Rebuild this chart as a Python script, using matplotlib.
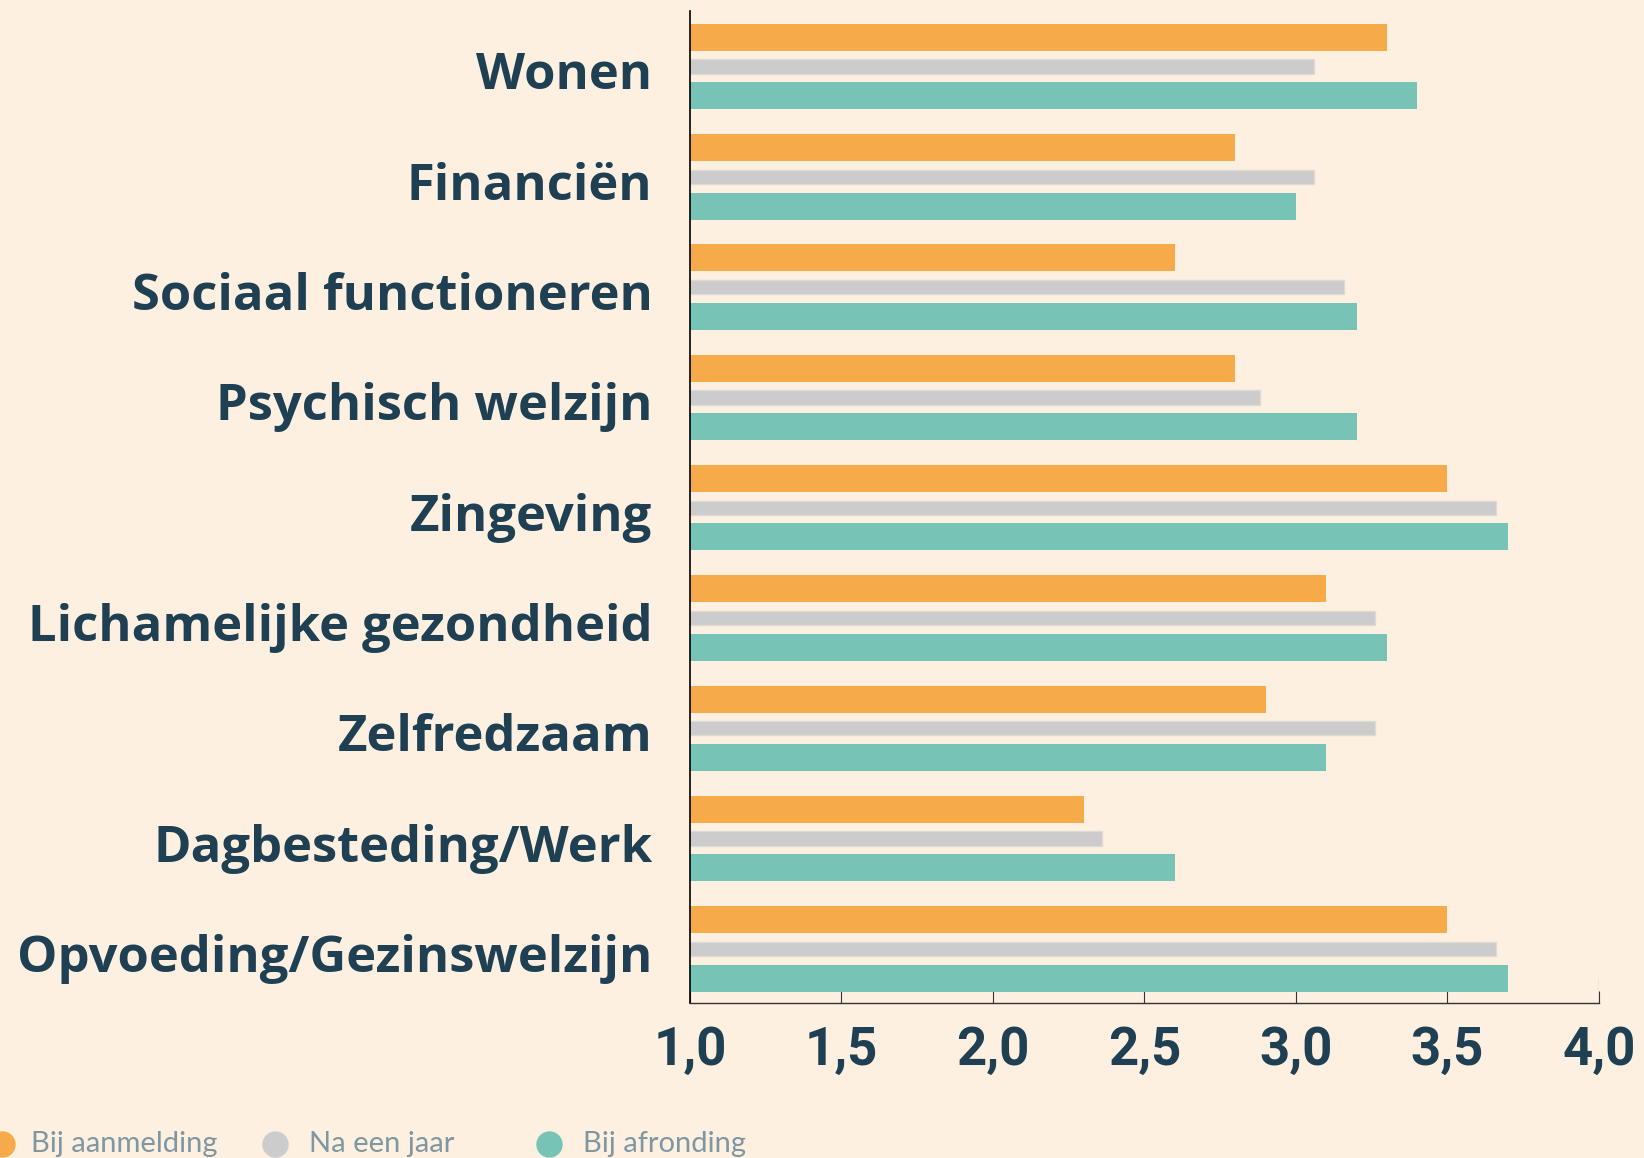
#!/usr/bin/env python3
"""Horizontal bar chart: scores per life domain at three moments."""

import matplotlib.pyplot as plt
import matplotlib.transforms as mtransforms
import numpy as np
from matplotlib.lines import Line2D

BG = "#fdf0e1"
NAVY = "#1f4052"
ORANGE = "#f6aa4a"
GREY = "#cccccc"
TEAL = "#77c4b7"
LEGEND_TEXT = "#7f97a0"

domains = [
    "Wonen",
    "Financiën",
    "Sociaal functioneren",
    "Psychisch welzijn",
    "Zingeving",
    "Lichamelijke gezondheid",
    "Zelfredzaam",
    "Dagbesteding/Werk",
    "Opvoeding/Gezinswelzijn",
]
bij_aanmelding = [3.3, 2.8, 2.6, 2.8, 3.5, 3.1, 2.9, 2.3, 3.5]
na_een_jaar = [3.06, 3.06, 3.16, 2.88, 3.66, 3.26, 3.26, 2.36, 3.66]
bij_afronding = [3.4, 3.0, 3.2, 3.2, 3.7, 3.3, 3.1, 2.6, 3.7]

series_names = ["Bij aanmelding", "Na een jaar", "Bij afronding"]
x_ticks = [1.0, 1.5, 2.0, 2.5, 3.0, 3.5, 4.0]
x_tick_labels = ["1,0", "1,5", "2,0", "2,5", "3,0", "3,5", "4,0"]

BASE = 1.0


def main() -> None:
    fig = plt.figure(figsize=(16.44, 11.58), dpi=100, facecolor=BG)
    ax = fig.add_axes([0.4197, 0.1339, 0.5529, 0.8566])
    ax.set_facecolor(BG)

    y = np.arange(len(domains))
    off = 0.265

    ax.barh(y - off, np.array(bij_aanmelding) - BASE, left=BASE, height=0.245,
            color=ORANGE, linewidth=0, zorder=2)
    ax.barh(y, np.array(na_een_jaar) - BASE + 0.006, left=BASE - 0.006, height=0.13,
            color=GREY, edgecolor="#dedad4", linewidth=1.0, zorder=2)
    ax.barh(y + off, np.array(bij_afronding) - BASE, left=BASE, height=0.245,
            color=TEAL, linewidth=0, zorder=2)

    ax.set_xlim(1.0, 4.0)
    ax.set_ylim(8.49, -0.503)

    ax.set_yticks(y)
    ax.set_yticklabels(domains, fontsize=36.5, fontweight="bold",
                       family=["Open Sans", "DejaVu Sans"], color=NAVY)
    ax.tick_params(axis="y", length=0, pad=27)
    shift = mtransforms.ScaledTranslation(0, -4 / 100, fig.dpi_scale_trans)
    for lbl in ax.get_yticklabels():
        lbl.set_transform(lbl.get_transform() + shift)

    ax.set_xticks(x_ticks)
    ax.set_xticklabels(x_tick_labels, fontsize=38, fontweight="bold",
                       family=["Roboto", "DejaVu Sans"], color=NAVY)
    ax.tick_params(axis="x", direction="in", length=8.6, width=0.8,
                   color="#333333", pad=16)
    ax.axvline(4.0, ymin=0, ymax=0.025, color="#333333", linewidth=0.8)

    for side in ("top", "right"):
        ax.spines[side].set_visible(False)
    ax.spines["left"].set_color("black")
    ax.spines["left"].set_linewidth(1.2)
    ax.spines["bottom"].set_color("#333333")
    ax.spines["bottom"].set_linewidth(1.0)

    # legend along the bottom edge, drawn in figure pixels
    colors = [ORANGE, GREY, TEAL]
    dot_x = [2, 275, 549]
    text_x = [31, 309, 583]
    leg_y = 1158 - 1144
    W, H = 1644, 1158
    for name, c, dx, tx in zip(series_names, colors, dot_x, text_x):
        fig.add_artist(Line2D([dx / W], [leg_y / H], marker="o", markersize=18,
                              color=c, linestyle="none", transform=fig.transFigure))
        fig.text(tx / W, leg_y / H, name, fontsize=21, color=LEGEND_TEXT,
                 family=["Lato", "DejaVu Sans"], fontweight="normal",
                 ha="left", va="center")

    fig.savefig("out.png", dpi=100, facecolor=BG)
    plt.close(fig)


if __name__ == "__main__":
    main()
